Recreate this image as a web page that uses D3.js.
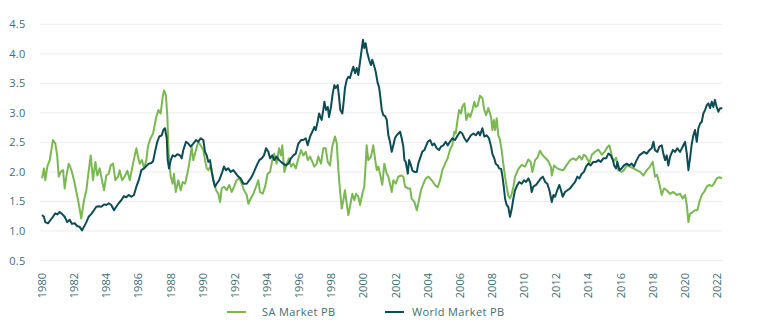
<!DOCTYPE html>
<html><head><meta charset="utf-8">
<script src="https://cdn.jsdelivr.net/npm/d3@7"></script>
<style>
html,body{margin:0;padding:0;background:#fff;}
svg{display:block;font-family:"Open Sans",sans-serif;}
</style></head>
<body><svg id="c" width="757" height="327"></svg>
<script>
// Years since 1980 and values
const saT = [0.02,0.14,0.22,0.35,0.50,0.70,0.85,0.97,1.06,1.18,1.33,1.43,1.53,1.68,1.84,2.01,2.22,2.36,2.46,2.63,2.78,2.88,3.05,3.19,3.34,3.46,3.61,3.75,3.88,4.02,4.17,4.29,4.44,4.58,4.75,4.85,5.00,5.16,5.33,5.48,5.68,5.89,5.99,6.10,6.24,6.37,6.51,6.61,6.74,6.93,7.05,7.13,7.26,7.40,7.53,7.61,7.73,7.82,7.88,7.94,8.03,8.15,8.23,8.34,8.50,8.65,8.77,8.92,9.06,9.18,9.33,9.43,9.60,9.74,9.89,10.06,10.16,10.27,10.37,10.52,10.68,10.85,10.99,11.10,11.20,11.34,11.51,11.67,11.82,11.97,12.13,12.30,12.45,12.59,12.76,12.86,13.01,13.17,13.34,13.48,13.58,13.75,13.90,14.06,14.21,14.35,14.47,14.62,14.77,14.89,14.97,15.10,15.25,15.39,15.51,15.66,15.81,15.97,16.14,16.28,16.43,16.55,16.70,16.84,16.96,17.11,17.21,17.38,17.52,17.67,17.80,17.94,18.08,18.25,18.36,18.46,18.56,18.67,18.77,18.87,18.98,19.08,19.20,19.33,19.45,19.56,19.70,19.81,19.95,20.07,20.16,20.22,20.32,20.49,20.63,20.74,20.85,20.95,21.05,21.19,21.32,21.47,21.57,21.67,21.78,21.88,22.03,22.19,22.36,22.50,22.61,22.78,22.92,23.02,23.19,23.34,23.43,23.60,23.75,23.90,24.06,24.27,24.47,24.64,24.79,24.93,25.10,25.26,25.40,25.55,25.67,25.76,25.89,25.97,26.09,26.17,26.30,26.42,26.55,26.67,26.80,26.92,27.01,27.13,27.27,27.42,27.54,27.65,27.79,27.96,28.04,28.13,28.21,28.31,28.41,28.51,28.62,28.72,28.83,28.93,29.03,29.14,29.25,29.35,29.45,29.66,29.87,30.07,30.28,30.43,30.53,30.70,30.84,31.01,31.18,31.33,31.53,31.68,31.74,31.88,32.08,32.25,32.46,32.67,32.88,33.08,33.25,33.46,33.60,33.74,33.87,34.08,34.23,34.43,34.64,34.85,35.02,35.20,35.32,35.43,35.57,35.74,35.88,36.09,36.23,36.40,36.60,36.81,37.03,37.23,37.44,37.65,37.85,38.02,38.16,38.29,38.43,38.58,38.72,38.89,39.09,39.30,39.51,39.72,39.88,40.03,40.14,40.24,40.34,40.51,40.65,40.80,40.92,41.07,41.21,41.38,41.54,41.71,41.83,42.00,42.17,42.33];
const saPB = [1.89,2.06,1.86,2.09,2.20,2.54,2.48,2.26,1.92,2.00,2.03,1.72,1.92,2.14,2.04,1.86,1.58,1.38,1.21,1.52,1.69,1.92,2.28,1.86,2.17,1.94,2.06,1.86,1.69,1.94,1.97,2.11,2.14,1.86,1.92,2.03,1.86,1.92,2.02,1.86,2.14,2.40,2.26,2.14,2.20,2.06,2.20,2.43,2.55,2.65,2.82,2.93,3.05,2.99,3.27,3.38,3.30,2.93,2.43,2.14,1.92,1.80,1.97,1.66,1.86,1.69,1.83,1.80,1.97,2.14,2.43,2.20,2.37,2.51,2.45,2.37,2.20,2.06,2.03,2.11,1.86,1.69,1.63,1.49,1.72,1.75,1.69,1.78,1.66,1.75,1.86,1.89,1.80,1.69,1.61,1.46,1.55,1.63,1.75,1.86,1.66,1.63,1.75,1.97,2.00,2.20,2.31,2.14,2.40,2.28,2.45,2.00,2.14,2.23,2.09,2.14,2.06,2.23,2.37,2.28,2.34,2.20,2.26,2.17,2.09,2.14,2.26,2.14,2.40,2.40,2.17,2.11,2.43,2.60,2.48,2.03,1.69,1.38,1.52,1.69,1.46,1.27,1.44,1.63,1.52,1.63,1.58,1.44,1.63,1.75,2.14,2.45,2.20,2.26,2.45,2.23,2.03,2.09,1.97,1.78,2.14,1.97,1.92,1.80,1.66,1.86,1.80,1.92,1.94,1.92,1.75,1.72,1.72,1.55,1.49,1.35,1.46,1.69,1.80,1.89,1.92,1.86,1.78,1.74,1.86,2.03,2.14,2.23,2.37,2.45,2.68,2.65,2.91,3.05,2.99,3.10,3.16,2.88,2.99,2.93,3.05,3.19,3.10,3.13,3.29,3.25,3.05,2.96,3.08,2.93,2.71,2.88,2.71,2.91,2.62,2.55,2.37,2.14,1.92,1.75,1.60,1.55,1.63,1.75,1.92,2.05,2.12,2.09,2.21,2.17,2.00,2.20,2.24,2.36,2.28,2.24,2.18,2.09,1.94,2.11,2.06,2.04,2.03,2.12,2.20,2.23,2.20,2.27,2.21,2.29,2.26,2.15,2.29,2.34,2.38,2.29,2.34,2.42,2.45,2.33,2.17,2.24,2.03,2.00,2.03,2.11,2.09,2.06,2.03,2.00,1.94,2.03,2.09,2.17,1.92,1.95,1.80,1.61,1.72,1.69,1.63,1.66,1.61,1.63,1.55,1.61,1.44,1.15,1.29,1.32,1.35,1.35,1.49,1.61,1.66,1.75,1.78,1.76,1.80,1.89,1.91,1.89];
const worldT = [0.02,0.14,0.22,0.39,0.56,0.70,0.85,0.97,1.12,1.26,1.43,1.59,1.74,1.89,2.05,2.22,2.36,2.51,2.63,2.78,2.92,3.09,3.25,3.40,3.55,3.71,3.88,4.02,4.17,4.33,4.50,4.64,4.79,4.95,5.12,5.26,5.41,5.58,5.74,5.89,6.04,6.20,6.37,6.51,6.66,6.82,6.93,7.05,7.19,7.32,7.47,7.57,7.67,7.78,7.84,7.92,8.03,8.15,8.29,8.44,8.61,8.71,8.81,8.98,9.12,9.27,9.43,9.60,9.74,9.89,10.06,10.16,10.27,10.37,10.47,10.58,10.68,10.78,10.89,11.05,11.20,11.34,11.47,11.61,11.76,11.92,12.09,12.23,12.38,12.55,12.76,12.92,13.07,13.21,13.38,13.54,13.69,13.83,13.96,14.10,14.21,14.35,14.47,14.62,14.77,14.89,15.03,15.18,15.35,15.51,15.66,15.81,15.97,16.14,16.28,16.43,16.55,16.70,16.84,16.96,17.05,17.17,17.26,17.34,17.42,17.52,17.59,17.69,17.80,17.88,18.00,18.11,18.21,18.29,18.42,18.50,18.58,18.71,18.79,18.87,18.98,19.08,19.18,19.29,19.39,19.50,19.60,19.70,19.81,19.91,19.99,20.07,20.16,20.24,20.37,20.49,20.57,20.70,20.78,20.91,20.99,21.07,21.16,21.26,21.36,21.47,21.57,21.67,21.78,21.88,21.98,22.09,22.19,22.30,22.40,22.50,22.57,22.65,22.78,22.86,22.98,23.06,23.19,23.34,23.43,23.54,23.68,23.81,23.90,24.02,24.17,24.31,24.43,24.58,24.72,24.85,24.99,25.14,25.26,25.40,25.55,25.72,25.89,26.03,26.17,26.30,26.45,26.59,26.71,26.86,27.01,27.17,27.27,27.42,27.54,27.69,27.83,27.96,28.04,28.16,28.25,28.38,28.46,28.59,28.67,28.75,28.83,28.93,29.03,29.14,29.25,29.35,29.45,29.60,29.72,29.87,30.01,30.14,30.28,30.39,30.49,30.59,30.76,30.90,31.05,31.18,31.33,31.46,31.59,31.74,31.84,31.94,32.08,32.21,32.31,32.42,32.56,32.71,32.88,33.04,33.19,33.33,33.46,33.60,33.74,33.87,34.01,34.16,34.32,34.49,34.64,34.79,34.95,35.12,35.26,35.41,35.54,35.62,35.74,35.82,35.95,36.09,36.23,36.40,36.56,36.71,36.85,37.02,37.18,37.33,37.47,37.65,37.81,37.96,38.06,38.16,38.31,38.43,38.58,38.68,38.79,38.89,38.99,39.10,39.27,39.41,39.55,39.72,39.89,40.03,40.14,40.24,40.34,40.45,40.55,40.65,40.76,40.86,40.97,41.07,41.17,41.28,41.38,41.48,41.59,41.69,41.79,41.89,42.00,42.10,42.21,42.35];
const worldPB = [1.27,1.24,1.15,1.13,1.19,1.24,1.30,1.28,1.32,1.29,1.24,1.15,1.19,1.12,1.13,1.08,1.07,1.01,1.07,1.15,1.24,1.29,1.35,1.41,1.42,1.41,1.45,1.44,1.47,1.44,1.35,1.41,1.47,1.52,1.59,1.57,1.61,1.58,1.61,1.75,1.86,2.03,2.06,2.10,2.14,2.15,2.18,2.34,2.51,2.60,2.62,2.71,2.74,2.57,2.20,2.06,2.20,2.28,2.26,2.30,2.28,2.23,2.37,2.51,2.48,2.43,2.48,2.54,2.51,2.57,2.54,2.34,2.28,2.17,2.20,2.00,1.86,1.75,1.80,1.86,1.97,2.09,2.03,2.06,2.00,2.03,1.97,1.92,1.89,1.80,1.80,1.86,1.92,2.00,2.11,2.20,2.23,2.28,2.40,2.34,2.23,2.28,2.20,2.26,2.20,2.17,2.14,2.11,2.14,2.23,2.28,2.31,2.48,2.54,2.54,2.57,2.45,2.60,2.68,2.76,2.71,2.85,2.99,2.93,2.88,3.05,3.19,3.05,3.10,2.93,3.10,3.33,3.47,3.42,3.47,3.27,3.05,2.99,3.19,3.42,3.56,3.61,3.59,3.70,3.78,3.67,3.76,3.64,3.87,4.07,4.24,4.10,4.18,4.04,3.90,3.81,3.90,3.78,3.70,3.50,3.44,3.27,3.05,2.96,2.95,2.88,2.62,2.51,2.34,2.45,2.57,2.62,2.65,2.68,2.57,2.43,2.20,2.17,1.97,2.20,2.11,2.03,2.00,2.00,2.14,2.23,2.34,2.37,2.43,2.51,2.54,2.45,2.48,2.40,2.37,2.43,2.45,2.51,2.45,2.51,2.57,2.54,2.62,2.68,2.65,2.57,2.51,2.57,2.62,2.65,2.62,2.68,2.62,2.74,2.60,2.62,2.57,2.43,2.31,2.23,2.14,2.11,2.06,2.05,1.92,1.75,1.55,1.44,1.41,1.24,1.38,1.55,1.69,1.78,1.83,1.80,1.86,1.83,1.89,1.83,1.66,1.75,1.78,1.83,1.89,1.92,1.83,1.80,1.69,1.49,1.61,1.58,1.69,1.78,1.69,1.58,1.66,1.69,1.72,1.78,1.83,1.92,1.89,1.97,2.00,2.09,2.14,2.11,2.17,2.17,2.20,2.17,2.23,2.23,2.31,2.28,2.20,2.11,2.06,2.17,2.03,2.06,2.11,2.14,2.11,2.14,2.09,2.20,2.28,2.31,2.34,2.31,2.37,2.40,2.51,2.37,2.34,2.43,2.45,2.31,2.20,2.28,2.11,2.26,2.37,2.34,2.40,2.34,2.43,2.51,2.31,2.03,2.23,2.48,2.62,2.71,2.51,2.74,2.82,2.85,2.99,3.05,3.13,3.16,3.08,3.19,3.10,3.22,3.10,3.02,3.08,3.08];
const yTicks = [0.5,1.0,1.5,2.0,2.5,3.0,3.5,4.0,4.5];
const xTicks = d3.range(1980, 2023, 2);
const seriesNames = ["SA Market PB", "World Market PB"];
const colors = ["#7ab851", "#0c4c55"];

const svg = d3.select("#c");
const x = d3.scaleLinear().domain([1980, 2022]).range([41.7, 716.7]);
const y = d3.scaleLinear().domain([0.5, 4.5]).range([260.5, 24.3]);
const labelColor = "#3f6d72";

// gridlines
svg.append("g").selectAll("line").data(yTicks).join("line")
  .attr("x1", 40).attr("x2", 722)
  .attr("y1", d => y(d)).attr("y2", d => y(d))
  .attr("stroke", "#ececec").attr("stroke-width", 1);

// y labels
const yAxis = d3.axisLeft(y).tickValues(yTicks).tickFormat(d3.format(".1f")).tickSize(0).tickPadding(0);
const gy = svg.append("g").attr("transform", "translate(25.5,0)").call(yAxis);
gy.select(".domain").remove();
gy.selectAll("text").attr("fill", labelColor).style("font-size", "11px").style("font-family", "'Open Sans',sans-serif").style("letter-spacing", "0.3px");

// x labels
const xAxis = d3.axisBottom(x).tickValues(xTicks).tickFormat(d3.format("d")).tickSize(0).tickPadding(0);
const gx = svg.append("g").attr("transform", "translate(0,273)").call(xAxis);
gx.select(".domain").remove();
gx.selectAll("text")
  .attr("transform", "rotate(-90)")
  .attr("text-anchor", "end").attr("x", 0).attr("y", 0).attr("dy", "0.35em").attr("dx", "0")
  .attr("fill", labelColor).style("font-size", "11px").style("font-family", "'Open Sans',sans-serif");

const line = d3.line().x(d => x(1980 + d[0])).y(d => y(d[1]));
const saData = saT.map((t, i) => [t, saPB[i]]);
const worldData = worldT.map((t, i) => [t, worldPB[i]]);

svg.append("path").datum(saData).attr("d", line)
  .attr("fill", "none").attr("stroke", colors[0]).attr("stroke-width", 2).attr("stroke-linejoin", "round");
svg.append("path").datum(worldData).attr("d", line)
  .attr("fill", "none").attr("stroke", colors[1]).attr("stroke-width", 2).attr("stroke-linejoin", "round");

// legend
const legendX = [227, 385];
const legendY = 312;
const lg = svg.append("g");
seriesNames.forEach((n, i) => {
  lg.append("line").attr("x1", legendX[i]).attr("x2", legendX[i] + 19)
    .attr("y1", legendY).attr("y2", legendY).attr("stroke", colors[i]).attr("stroke-width", 2);
  lg.append("text").attr("x", legendX[i] + 35 - (i ? 8 : 0)).attr("y", legendY).attr("dy", "0.35em")
    .attr("fill", labelColor).style("font-size", "11px").style("letter-spacing", "0.4px").text(n);
});
</script></body></html>
